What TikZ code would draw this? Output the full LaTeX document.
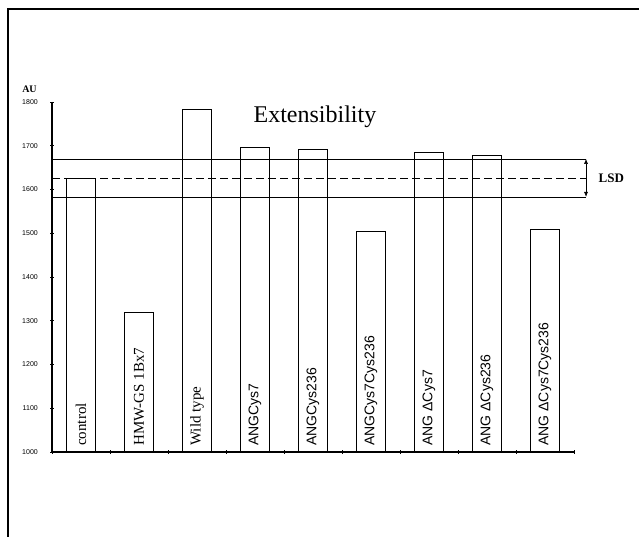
\documentclass[tikz,border=0pt]{standalone}
\usepackage{fontspec}
\setmainfont{Liberation Serif}
\newfontfamily\barsans{Liberation Sans}
\usetikzlibrary{
  arrows.meta,
  calc
}

\begin{document}
\begin{tikzpicture}[x = 58pt, y = 0.4375pt]
  \tikzset{>={Latex[length=5pt, width=4pt]}, bar/.style = {draw, line width = 0.8pt}, lsdline/.style = {line width = 0.6pt}, barlabel/.style = {rotate = 90, anchor = west, inner sep = 0pt}, ticklab/.style = {inner sep = 0pt, font = \barsans\fontsize{7}{7}\selectfont}}
  \useasboundingbox (-52pt,-85pt) rectangle (587pt,452pt);

  \draw[line width = 1.2pt] (-44pt,-85pt) -- (-44pt,443pt) -- (587pt,443pt);

  % LSD band
  \draw[lsdline] (0,670) -- (9.207,670) coordinate (hiend);
  \draw[lsdline, dash pattern = on 8pt off 4pt] (0,626) -- (9.207,626);
  \draw[lsdline] (0,583) -- (9.207,583) coordinate (loend);
  \draw[<->, lsdline] (hiend) -- (loend) node[midway, right = 9pt, font = \bfseries\fontsize{13}{13}\selectfont] (lsd) {LSD};

  \foreach \val [count = \i] in {626, 320, 784, 697, 692, 505, 684, 679, 509}
    \draw[bar] (\i-0.75,0) |- (\i-0.25,\val) -- (\i-0.25,0);

  \foreach \lab [count = \i] in {control, HMW-GS 1Bx7, Wild type}
    \node[barlabel, font = \fontsize{15}{15}\selectfont] (lab\i) at (\i-0.5,14) {\lab};
  \foreach \lab [count = \i from 4] in {ANGCys7, ANGCys236, ANGCys7Cys236, ANG ΔCys7, ANG ΔCys236, ANG ΔCys7Cys236}
    \node[barlabel, font = \barsans\fontsize{14}{14}\selectfont] (lab\i) at (\i-0.5,14) {\lab};

  \draw[line width = 1.2pt] (0,800) -- (0,0) -- (9,0);
  \foreach \v in {1000,1100,...,1800}
    {\draw[line width = 0.8pt] (0,\v-1000) ++(-2pt,0) -- ++(4pt,0);
     \node[ticklab, left = 14pt] (t\v) at (0,\v-1000) {\v};}
  \foreach \k in {0,...,9}
    \draw[line width = 0.8pt] (\k,0) ++(0,-2pt) -- ++(0,4pt);

  \node[font = \bfseries\fontsize{10}{10}\selectfont] (au) at (-0.388,830) {AU};
  \node[font = \fontsize{24}{24}\selectfont, anchor = base] (title) at (4.534,752) {Extensibility};
\end{tikzpicture}
\end{document}
